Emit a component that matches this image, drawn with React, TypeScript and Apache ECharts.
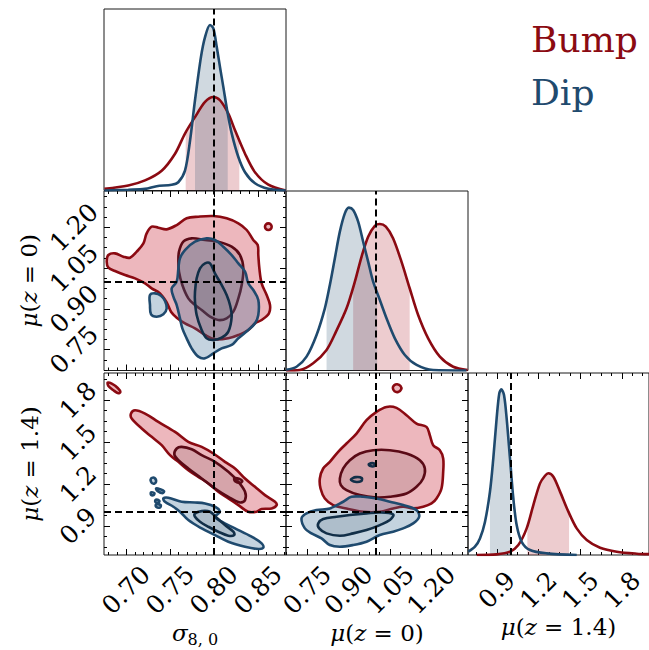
import React, { useEffect, useRef } from 'react';
import * as echarts from 'echarts';

// ---------- colours ----------
const RED = '#8b0a12';
const RED_DARK = '#5a0a16';
const BLUE = '#1f4a6e';
const BLUE_DARK = '#122f48';
const RED_OUT_FILL = 'rgba(205,55,72,0.36)';
const RED_IN_FILL = 'rgba(110,80,85,0.18)';
const BLUE_OUT_FILL = 'rgba(60,110,150,0.30)';
const BLUE_IN_FILL = 'rgba(60,80,100,0.16)';
const RED_BAND = 'rgba(185,50,65,0.25)';
const BLUE_BAND = 'rgba(40,80,115,0.22)';
const SERIF = 'DejaVu Serif';

// ---------- axis ranges & ticks ----------
const S8_RANGE = [0.675, 0.882];
const M0_RANGE = [0.6735, 1.3335];
const M14_RANGE = [0.693, 1.995];
const DENS_RANGE = [0, 1.1];

const S8_MAJOR = [0.7, 0.75, 0.8, 0.85];
const S8_MINOR = [0.68, 0.69, 0.71, 0.72, 0.73, 0.74, 0.76, 0.77, 0.78, 0.79, 0.81, 0.82, 0.83, 0.84, 0.86, 0.87, 0.88];
const M0_MAJOR = [0.75, 0.9, 1.05, 1.2];
const M0_MINOR = [0.675, 0.7125, 0.7875, 0.825, 0.8625, 0.9375, 0.975, 1.0125, 1.0875, 1.125, 1.1625, 1.2375, 1.275, 1.3125];
const M14_MAJOR = [0.9, 1.2, 1.5, 1.8];
const M14_MINOR = [0.75, 0.825, 0.975, 1.05, 1.125, 1.275, 1.35, 1.425, 1.575, 1.65, 1.725, 1.875, 1.95];

const TRUTH_S8 = 0.8;
const TRUTH_M0 = 1.0;
const TRUTH_M14 = 1.0;

// ---------- 1D marginals ----------
const S8_X_BUMP = [0.6755, 0.7026, 0.7216, 0.7406, 0.7558, 0.7671, 0.7785, 0.7899, 0.7994, 0.8069, 0.8164, 0.824, 0.8354, 0.8467, 0.8619, 0.8817];
const S8_D_BUMP = [0.01, 0.03, 0.061, 0.12, 0.223, 0.345, 0.445, 0.537, 0.567, 0.547, 0.466, 0.365, 0.223, 0.111, 0.035, 0.0];
const S8_X_DIP = [0.6755, 0.7026, 0.7216, 0.7349, 0.752, 0.7595, 0.7671, 0.7728, 0.7785, 0.7853, 0.7899, 0.7956, 0.7994, 0.8032, 0.8069, 0.8107, 0.8157, 0.8203, 0.8278, 0.8354, 0.8467, 0.8619, 0.8817];
const S8_D_DIP = [0, 0.005, 0.01, 0.026, 0.035, 0.05, 0.12, 0.3, 0.547, 0.81, 0.93, 1.003, 0.983, 0.871, 0.749, 0.628, 0.466, 0.345, 0.203, 0.111, 0.044, 0.01, 0];
const S8_BAND_BUMP_X = [0.7679, 0.7785, 0.7899, 0.7994, 0.8069, 0.8164, 0.824, 0.8289];
const S8_BAND_BUMP_D = [0.352, 0.445, 0.537, 0.567, 0.547, 0.466, 0.365, 0.304];
const S8_BAND_DIP_X = [0.7785, 0.7853, 0.7899, 0.7956, 0.7994, 0.8032, 0.8069, 0.8107, 0.8157];
const S8_BAND_DIP_D = [0.547, 0.81, 0.93, 1.003, 0.983, 0.871, 0.749, 0.628, 0.466];

const M0_X_DIP = [0.674, 0.7118, 0.748, 0.7843, 0.8144, 0.8325, 0.8507, 0.8688, 0.8869, 0.9014, 0.917, 0.9352, 0.9533, 0.9714, 0.9896, 1.0138, 1.038, 1.0682, 1.1045, 1.147, 1.207, 1.328];
const M0_D_DIP = [0.005, 0.023, 0.085, 0.218, 0.381, 0.524, 0.688, 0.851, 0.963, 0.998, 0.984, 0.912, 0.789, 0.667, 0.544, 0.432, 0.32, 0.197, 0.095, 0.034, 0.003, 0];
const M0_X_BUMP = [0.674, 0.7238, 0.772, 0.8206, 0.8548, 0.8931, 0.9232, 0.9474, 0.9714, 0.9957, 1.0138, 1.0356, 1.0617, 1.0922, 1.122, 1.1527, 1.189, 1.2314, 1.2797, 1.332];
const M0_D_BUMP = [0, 0.003, 0.044, 0.126, 0.238, 0.381, 0.544, 0.697, 0.82, 0.887, 0.898, 0.881, 0.81, 0.667, 0.504, 0.34, 0.197, 0.085, 0.023, 0.003];
const M0_BAND_DIP_X = [0.8206, 0.8325, 0.8507, 0.8688, 0.8869, 0.9014, 0.917, 0.9352, 0.9533, 0.9714, 0.9896, 1.004];
const M0_BAND_DIP_D = [0.43, 0.524, 0.688, 0.851, 0.963, 0.998, 0.984, 0.912, 0.789, 0.667, 0.544, 0.5];
const M0_BAND_BUMP_X = [0.917, 0.9232, 0.9474, 0.9714, 0.9957, 1.0138, 1.0356, 1.0617, 1.0922, 1.122];
const M0_BAND_BUMP_D = [0.51, 0.544, 0.697, 0.82, 0.887, 0.898, 0.881, 0.81, 0.667, 0.504];

const M14_X_DIP = [0.695, 0.743, 0.779, 0.815, 0.851, 0.875, 0.899, 0.918, 0.933, 0.952, 0.971, 0.995, 1.019, 1.043, 1.079, 1.139, 1.259, 1.475];
const M14_D_DIP = [0.02, 0.05, 0.1, 0.2, 0.383, 0.584, 0.826, 0.977, 1.001, 0.967, 0.826, 0.584, 0.343, 0.181, 0.08, 0.03, 0.01, 0];
const M14_X_BUMP = [0.756, 0.899, 0.995, 1.055, 1.115, 1.163, 1.211, 1.247, 1.271, 1.307, 1.355, 1.415, 1.475, 1.547, 1.643, 1.763, 1.907, 1.995];
const M14_D_BUMP = [0, 0.004, 0.02, 0.06, 0.161, 0.302, 0.433, 0.479, 0.494, 0.473, 0.383, 0.262, 0.161, 0.091, 0.044, 0.02, 0.008, 0.005];
const M14_BAND_DIP_X = [0.851, 0.875, 0.899, 0.918, 0.933, 0.952, 0.971, 0.995, 1.0];
const M14_BAND_DIP_D = [0.383, 0.584, 0.826, 0.977, 1.001, 0.967, 0.826, 0.584, 0.54];
const M14_BAND_BUMP_X = [1.12, 1.163, 1.211, 1.247, 1.271, 1.307, 1.355, 1.415, 1.42];
const M14_BAND_BUMP_D = [0.175, 0.302, 0.433, 0.479, 0.494, 0.473, 0.383, 0.262, 0.252];

// ---------- 2D contours: sigma8 vs mu(z=0) ----------
const S8M0_BUMP_68 = [[0.6781,1.0736],[0.68,1.0981],[0.6875,1.1043],[0.697,1.092],[0.7046,1.0883],[0.7122,1.1104],[0.7198,1.141],[0.7235,1.1778],[0.7292,1.2023],[0.7368,1.1986],[0.7463,1.1925],[0.7577,1.2084],[0.769,1.233],[0.7823,1.2391],[0.7994,1.2415],[0.8145,1.233],[0.8278,1.2146],[0.8373,1.1901],[0.8448,1.1533],[0.8498,1.1349],[0.8505,1.0981],[0.8517,1.0491],[0.8543,0.994],[0.86,0.9511],[0.8638,0.9143],[0.8626,0.8837],[0.8543,0.8592],[0.8467,0.8469],[0.8391,0.8224],[0.8278,0.804],[0.8164,0.7918],[0.8012,0.7881],[0.7899,0.804],[0.7785,0.8285],[0.7671,0.8469],[0.7577,0.8678],[0.7512,0.8898],[0.7463,0.9241],[0.7387,0.9572],[0.7292,0.9756],[0.7217,0.994],[0.7103,1.0124],[0.6989,1.0246],[0.6875,1.0393],[0.68,1.0516]];
const S8M0_BUMP_ISLAND = [[0.8657,1.2023],[0.8646,1.2109],[0.8619,1.2146],[0.8592,1.2109],[0.8581,1.2023],[0.8592,1.1937],[0.8619,1.1901],[0.8646,1.1937]];
const S8M0_BUMP_95 = [[0.7596,1.0736],[0.7603,1.1104],[0.7652,1.1472],[0.7747,1.1594],[0.7899,1.1533],[0.805,1.1472],[0.8202,1.1288],[0.8297,1.0981],[0.8335,1.0491],[0.8316,0.9879],[0.8278,0.9388],[0.8221,0.8898],[0.8145,0.8653],[0.805,0.8592],[0.7956,0.8714],[0.7861,0.8959],[0.7785,0.9143],[0.7709,0.9388],[0.7641,0.9879],[0.7603,1.0369]];
const S8M0_DIP_68 = [[0.752,0.9756],[0.7577,1.0001],[0.7596,1.0491],[0.7614,1.0859],[0.7671,1.1165],[0.7785,1.1472],[0.7918,1.1594],[0.8012,1.1533],[0.8107,1.1288],[0.8202,1.0981],[0.8278,1.0675],[0.8354,1.0369],[0.8391,0.994],[0.8448,0.9695],[0.8505,0.9327],[0.8505,0.8776],[0.8467,0.8469],[0.8391,0.8224],[0.8278,0.7918],[0.8202,0.7673],[0.8088,0.755],[0.7994,0.7366],[0.7899,0.7182],[0.7823,0.7244],[0.7747,0.755],[0.769,0.7918],[0.7641,0.8285],[0.7614,0.8653],[0.7577,0.9143],[0.7539,0.945]];
const S8M0_DIP_ISLAND = [[0.7273,0.9511],[0.733,0.9572],[0.7398,0.9486],[0.7444,0.929],[0.7463,0.9021],[0.7425,0.88],[0.7349,0.8714],[0.7285,0.88],[0.7273,0.9143]];
const S8M0_DIP_95 = [[0.7785,0.9633],[0.7804,1.0124],[0.7842,1.0491],[0.7899,1.0675],[0.7956,1.0675],[0.8012,1.0307],[0.8088,0.9879],[0.8145,0.9511],[0.8183,0.9143],[0.8202,0.8714],[0.8164,0.8163],[0.8088,0.7942],[0.7994,0.7856],[0.7918,0.7918],[0.7853,0.8285],[0.7804,0.8776],[0.7785,0.9266]];

// ---------- 2D contours: sigma8 vs mu(z=1.4) ----------
const S8M14_BUMP_68 = [[0.7057,1.7048],[0.7103,1.7286],[0.7217,1.7048],[0.7368,1.6452],[0.7558,1.5738],[0.7709,1.5024],[0.7861,1.4667],[0.7994,1.419],[0.8126,1.3595],[0.824,1.3119],[0.8354,1.2405],[0.8467,1.1809],[0.8581,1.1214],[0.8695,1.0738],[0.8714,1.05],[0.8657,1.0262],[0.8543,1.0214],[0.8486,1.0024],[0.8391,1.0024],[0.8278,1.05],[0.8164,1.0976],[0.805,1.1452],[0.7937,1.2047],[0.7823,1.2524],[0.7709,1.3],[0.7596,1.3595],[0.7501,1.4071],[0.7406,1.4786],[0.7292,1.5381],[0.7179,1.5976],[0.7065,1.669]];
const S8M14_BUMP_ISLAND = [[0.6792,1.9262],[0.6838,1.919],[0.6906,1.8881],[0.6936,1.8595],[0.6913,1.85],[0.6857,1.8714],[0.68,1.9024]];
const S8M14_BUMP_95 = [[0.755,1.4119],[0.7577,1.4548],[0.7633,1.4667],[0.7747,1.45],[0.7861,1.4071],[0.8012,1.3595],[0.8164,1.2881],[0.8278,1.2167],[0.8354,1.1452],[0.8354,1.0857],[0.8297,1.069],[0.8164,1.1095],[0.8012,1.169],[0.7861,1.2405],[0.7709,1.3119],[0.7596,1.3714]];
const S8M14_BUMP_95_ISLAND = [[0.8232,1.2405],[0.8285,1.2381],[0.8323,1.2214],[0.8297,1.2095],[0.824,1.2214]];
const S8M14_DIP_68 = [[0.7425,1.0976],[0.7482,1.1024],[0.7633,1.0738],[0.7785,1.069],[0.7899,1.0619],[0.8012,1.0381],[0.8069,1.0024],[0.8012,0.9666],[0.8088,0.9309],[0.824,0.8833],[0.8429,0.8238],[0.8543,0.7762],[0.8562,0.7452],[0.8505,0.7357],[0.8354,0.7524],[0.8164,0.7881],[0.8012,0.8357],[0.7861,0.8833],[0.7709,0.9428],[0.7614,1.0024],[0.7539,1.0381],[0.7444,1.0738]];
const S8M14_DIP_ISLAND_A = [[0.7285,1.2405],[0.7323,1.2452],[0.7342,1.2167],[0.7311,1.2024],[0.7285,1.2167]];
const S8M14_DIP_ISLAND_B = [[0.7342,1.169],[0.7387,1.1643],[0.7433,1.15],[0.7417,1.1357],[0.7361,1.15]];
const S8M14_DIP_ISLAND_C = [[0.7285,1.1405],[0.7323,1.1357],[0.7315,1.1214],[0.7285,1.1238]];
const S8M14_DIP_ISLAND_D = [[0.7338,1.0881],[0.738,1.0809],[0.7368,1.0667],[0.7334,1.0738]];
const S8M14_DIP_ISLAND_E = [[0.7342,1.0547],[0.7395,1.05],[0.7387,1.0333],[0.7342,1.0381]];
const S8M14_DIP_95 = [[0.7785,0.9905],[0.7861,1.0071],[0.7956,1.0024],[0.8031,0.9595],[0.8126,0.9071],[0.8221,0.8595],[0.8232,0.8357],[0.8164,0.8309],[0.805,0.8595],[0.7937,0.8952],[0.7842,0.9309],[0.7785,0.9666]];

// ---------- 2D contours: mu(z=0) vs mu(z=1.4) ----------
const M0M14_BUMP_68 = [[0.7962,1.2405],[0.8083,1.3119],[0.8325,1.3595],[0.8627,1.4309],[0.8929,1.4905],[0.9292,1.5619],[0.9655,1.6571],[1.0017,1.7167],[1.038,1.7524],[1.0743,1.7452],[1.1105,1.6929],[1.1468,1.6333],[1.183,1.6095],[1.1951,1.55],[1.2072,1.4786],[1.2314,1.4428],[1.2435,1.3833],[1.2435,1.2881],[1.2374,1.169],[1.2193,1.0976],[1.2012,1.0619],[1.1709,1.0381],[1.1347,1.0262],[1.0984,1.0381],[1.0622,1.0262],[1.0138,1.0024],[0.9534,1.0024],[0.8929,1.0262],[0.8446,1.05],[0.8144,1.0976],[0.7987,1.169]];
const M0M14_BUMP_ISLAND = [[1.061,1.8881],[1.0658,1.9071],[1.0767,1.9143],[1.0888,1.9024],[1.0912,1.8786],[1.0803,1.8595],[1.067,1.8643]];
const M0M14_BUMP_95 = [[0.8688,1.2405],[0.8809,1.3119],[0.905,1.3714],[0.9413,1.419],[0.9896,1.4428],[1.0501,1.4428],[1.1105,1.419],[1.1589,1.3714],[1.177,1.3119],[1.1709,1.2405],[1.1468,1.1809],[1.1105,1.1333],[1.0501,1.1095],[1.0017,1.1047],[0.9413,1.1214],[0.8929,1.1571],[0.8724,1.1928]];
const M0M14_DIP_68 = [[0.7298,0.9547],[0.7479,0.9905],[0.7842,1.0143],[0.8325,1.0262],[0.8809,1.0738],[0.9111,1.1095],[0.9534,1.1095],[1.0017,1.0976],[1.0501,1.0738],[1.0984,1.05],[1.1468,1.0143],[1.1564,0.9666],[1.1347,0.919],[1.0984,0.8833],[1.0622,0.8595],[1.0138,0.8357],[0.9655,0.7881],[0.9171,0.7643],[0.8688,0.7524],[0.8325,0.7643],[0.8023,0.8119],[0.766,0.8476],[0.7419,0.8833]];
const M0M14_DIP_95 = [[0.7902,0.919],[0.8083,0.95],[0.8567,0.9666],[0.905,0.9786],[0.9655,0.9905],[1.0138,0.9976],[1.0622,0.9833],[1.0501,0.9428],[1.0138,0.9071],[0.9655,0.8714],[0.9171,0.8476],[0.8688,0.8309],[0.8204,0.8476],[0.7938,0.8833]];
const M0M14_DIP_95_ISLAND_A = [[0.9087,1.2333],[0.9268,1.25],[0.9485,1.2428],[0.9461,1.2214],[0.9244,1.2167]];
const M0M14_DIP_95_ISLAND_B = [[0.9739,1.3428],[0.9933,1.3476],[0.9933,1.3286],[0.9776,1.3309]];

// ---------- layout ----------
const GRIDS = [
  { left: 104, top: 9, width: 182, height: 181.5 },
  { left: 104, top: 191, width: 182, height: 179.5 },
  { left: 286, top: 191, width: 182, height: 179.5 },
  { left: 104, top: 373, width: 182, height: 182 },
  { left: 286, top: 373, width: 182, height: 182 },
  { left: 468, top: 373, width: 182, height: 182 },
];

const f2 = (v: number) => v.toFixed(2);
const f1 = (v: number) => v.toFixed(1);
const TICK_FONT = 25;
const LINE_W = 2.6;

function mkAxis(grid: number, range: number[], position: string, ticks: number[] | null, len: number, label?: any) {
  return {
    type: 'value',
    gridIndex: grid,
    min: range[0],
    max: range[1],
    position,
    axisLine: { show: false, onZero: false },
    splitLine: { show: false },
    axisTick: ticks
      ? { show: true, inside: true, length: len, customValues: ticks, lineStyle: { color: '#000', width: 1 } }
      : { show: false },
    axisLabel: label ? { customValues: ticks, ...label } : { show: false },
  };
}

const richName = {
  fontFamily: SERIF,
  fontSize: 23,
  color: '#000',
  rich: {
    i: { fontFamily: SERIF, fontStyle: 'italic', fontSize: 23, color: '#000' },
    s: { fontFamily: SERIF, fontSize: 16, color: '#000', padding: [12, 0, 0, 0] },
  },
};

function xLabel(fmt: (v: number) => string) {
  return { show: true, rotate: 45, align: 'center', verticalAlign: 'middle', margin: 35, fontFamily: SERIF, fontSize: TICK_FONT, color: '#000', formatter: fmt };
}
function yLabel(fmt: (v: number) => string, margin: number) {
  return { show: true, rotate: 45, align: 'center', verticalAlign: 'middle', margin, fontFamily: SERIF, fontSize: TICK_FONT, color: '#000', formatter: fmt };
}

function buildOption() {
  const xAxis: any[] = [];
  const yAxis: any[] = [];
  const gx: number[] = [];
  const gy: number[] = [];

  const ticked = (list: any[], grid: number, range: number[], majors: number[], minors: number[], sides: string[], label?: any, name?: any) => {
    const idx = list.length;
    list.push({ ...mkAxis(grid, range, sides[0], majors, 6, label), ...(name || {}) });
    list.push(mkAxis(grid, range, sides[0], minors, 3));
    list.push(mkAxis(grid, range, sides[1], majors, 6));
    list.push(mkAxis(grid, range, sides[1], minors, 3));
    return idx;
  };
  const hidden = (list: any[], grid: number, range: number[], position: string) => {
    const idx = list.length;
    list.push({ type: 'value', gridIndex: grid, min: range[0], max: range[1], position, show: false, axisLine: { onZero: false } });
    return idx;
  };

  gx[0] = hidden(xAxis, 0, S8_RANGE, 'bottom');
  gy[0] = hidden(yAxis, 0, DENS_RANGE, 'left');
  gx[1] = ticked(xAxis, 1, S8_RANGE, S8_MAJOR, S8_MINOR, ['bottom', 'top']);
  gy[1] = ticked(yAxis, 1, M0_RANGE, M0_MAJOR, M0_MINOR, ['left', 'right'], yLabel(f2, 30), {
    name: '{i|μ}({i|z} = 0)', nameLocation: 'middle', nameGap: 64, nameTextStyle: richName,
  });
  gx[2] = hidden(xAxis, 2, M0_RANGE, 'bottom');
  gy[2] = hidden(yAxis, 2, DENS_RANGE, 'left');
  gx[3] = ticked(xAxis, 3, S8_RANGE, S8_MAJOR, S8_MINOR, ['bottom', 'top'], xLabel(f2), {
    name: '{i|σ}{s|8, 0}', nameLocation: 'middle', nameGap: 52, nameTextStyle: richName,
  });
  gy[3] = ticked(yAxis, 3, M14_RANGE, M14_MAJOR, M14_MINOR, ['left', 'right'], yLabel(f1, 26), {
    name: '{i|μ}({i|z} = 1.4)', nameLocation: 'middle', nameGap: 63, nameTextStyle: richName,
  });
  gx[4] = ticked(xAxis, 4, M0_RANGE, M0_MAJOR, M0_MINOR, ['bottom', 'top'], xLabel(f2), {
    name: '{i|μ}({i|z} = 0)', nameLocation: 'middle', nameGap: 65, nameTextStyle: richName,
  });
  gy[4] = ticked(yAxis, 4, M14_RANGE, M14_MAJOR, M14_MINOR, ['left', 'right']);
  gx[5] = ticked(xAxis, 5, M14_RANGE, M14_MAJOR, M14_MINOR, ['bottom', 'top'], xLabel(f1), {
    name: '{i|μ}({i|z} = 1.4)', nameLocation: 'middle', nameGap: 51, nameTextStyle: richName,
  });
  gy[5] = hidden(yAxis, 5, DENS_RANGE, 'left');

  const dashed = (items: any[]) => ({
    silent: true,
    symbol: ['none', 'none'],
    label: { show: false },
    lineStyle: { color: '#000', width: 2, type: [7, 4] },
    emphasis: { disabled: true },
    data: items,
  });

  const pairs = (xs: number[], ys: number[]) => xs.map((x, i) => [x, ys[i]]);

  const curve = (g: number, xs: number[], ds: number[], color: string, markLine?: any) => ({
    type: 'line',
    xAxisIndex: gx[g],
    yAxisIndex: gy[g],
    data: pairs(xs, ds),
    smooth: 0.3,
    symbol: 'none',
    showSymbol: false,
    clip: true,
    silent: true,
    z: 3,
    lineStyle: { color, width: LINE_W },
    itemStyle: { color },
    ...(markLine ? { markLine } : {}),
  });
  const band = (g: number, xs: number[], ds: number[], fill: string) => ({
    type: 'line',
    xAxisIndex: gx[g],
    yAxisIndex: gy[g],
    data: pairs(xs, ds),
    smooth: 0.3,
    symbol: 'none',
    showSymbol: false,
    silent: true,
    z: 1,
    lineStyle: { width: 0, opacity: 0 },
    areaStyle: { color: fill, origin: 'start', opacity: 1 },
  });

  const polys = (g: number, shapes: number[][][], fill: string, stroke: string, lw: number, z: number, markLine?: any) => ({
    type: 'custom',
    xAxisIndex: gx[g],
    yAxisIndex: gy[g],
    clip: true,
    silent: true,
    z,
    data: shapes.map((s, i) => [s[0][0], s[0][1], i]),
    encode: { x: 0, y: 1 },
    renderItem: (params: any, api: any) => {
      const shape = shapes[params.dataIndex];
      const points = shape.map((p) => api.coord(p));
      return {
        type: 'polygon',
        shape: { points, smooth: 0.35 },
        style: { fill, stroke, lineWidth: lw },
      };
    },
    ...(markLine ? { markLine } : {}),
  });

  const series: any[] = [
    band(0, S8_BAND_BUMP_X, S8_BAND_BUMP_D, RED_BAND),
    band(0, S8_BAND_DIP_X, S8_BAND_DIP_D, BLUE_BAND),
    curve(0, S8_X_BUMP, S8_D_BUMP, RED, dashed([{ xAxis: TRUTH_S8 }])),
    curve(0, S8_X_DIP, S8_D_DIP, BLUE),
    band(2, M0_BAND_BUMP_X, M0_BAND_BUMP_D, RED_BAND),
    band(2, M0_BAND_DIP_X, M0_BAND_DIP_D, BLUE_BAND),
    curve(2, M0_X_BUMP, M0_D_BUMP, RED, dashed([{ xAxis: TRUTH_M0 }])),
    curve(2, M0_X_DIP, M0_D_DIP, BLUE),
    band(5, M14_BAND_BUMP_X, M14_BAND_BUMP_D, RED_BAND),
    band(5, M14_BAND_DIP_X, M14_BAND_DIP_D, BLUE_BAND),
    curve(5, M14_X_BUMP, M14_D_BUMP, RED, dashed([{ xAxis: TRUTH_M14 }])),
    curve(5, M14_X_DIP, M14_D_DIP, BLUE),
    polys(1, [S8M0_BUMP_68, S8M0_BUMP_ISLAND], RED_OUT_FILL, RED, LINE_W, 2),
    polys(1, [S8M0_BUMP_95], RED_IN_FILL, RED_DARK, LINE_W, 2),
    polys(1, [S8M0_DIP_68, S8M0_DIP_ISLAND], BLUE_OUT_FILL, BLUE, LINE_W, 2),
    polys(1, [S8M0_DIP_95], BLUE_IN_FILL, BLUE_DARK, LINE_W, 2, dashed([{ xAxis: TRUTH_S8 }, { yAxis: TRUTH_M0 }])),
    polys(3, [S8M14_BUMP_68, S8M14_BUMP_ISLAND], RED_OUT_FILL, RED, LINE_W, 2),
    polys(3, [S8M14_BUMP_95, S8M14_BUMP_95_ISLAND], RED_IN_FILL, RED_DARK, LINE_W, 2),
    polys(3, [S8M14_DIP_68, S8M14_DIP_ISLAND_A, S8M14_DIP_ISLAND_B, S8M14_DIP_ISLAND_C, S8M14_DIP_ISLAND_D, S8M14_DIP_ISLAND_E], BLUE_OUT_FILL, BLUE, LINE_W, 2),
    polys(3, [S8M14_DIP_95], BLUE_IN_FILL, BLUE_DARK, LINE_W, 2, dashed([{ xAxis: TRUTH_S8 }, { yAxis: TRUTH_M14 }])),
    polys(4, [M0M14_BUMP_68, M0M14_BUMP_ISLAND], RED_OUT_FILL, RED, LINE_W, 2),
    polys(4, [M0M14_BUMP_95], RED_IN_FILL, RED_DARK, LINE_W, 2),
    polys(4, [M0M14_DIP_68], BLUE_OUT_FILL, BLUE, LINE_W, 2),
    polys(4, [M0M14_DIP_95, M0M14_DIP_95_ISLAND_A, M0M14_DIP_95_ISLAND_B], BLUE_IN_FILL, BLUE_DARK, LINE_W, 2, dashed([{ xAxis: TRUTH_M0 }, { yAxis: TRUTH_M14 }])),
  ];

  return {
    animation: false,
    backgroundColor: '#fff',
    grid: GRIDS.map((g) => ({ ...g, show: true, borderColor: '#1a1a1a', borderWidth: 1, backgroundColor: 'transparent', containLabel: false })),
    xAxis,
    yAxis,
    series,
    graphic: [
      { type: 'text', x: 531, y: 39.5, silent: true, style: { text: 'Bump', fill: RED, font: `36px "${SERIF}"`, align: 'left', verticalAlign: 'middle' } },
      { type: 'text', x: 531, y: 92.5, silent: true, style: { text: 'Dip', fill: BLUE, font: `36px "${SERIF}"`, align: 'left', verticalAlign: 'middle' } },
    ],
  };
}

export default function App() {
  const ref = useRef<HTMLDivElement>(null);
  useEffect(() => {
    if (!ref.current) return;
    const chart = echarts.init(ref.current, null, { renderer: 'svg' });
    chart.setOption(buildOption() as any);
    return () => chart.dispose();
  }, []);
  return <div ref={ref} style={{ position: 'absolute', left: 0, top: 0, width: 649, height: 650, background: '#fff' }} />;
}
